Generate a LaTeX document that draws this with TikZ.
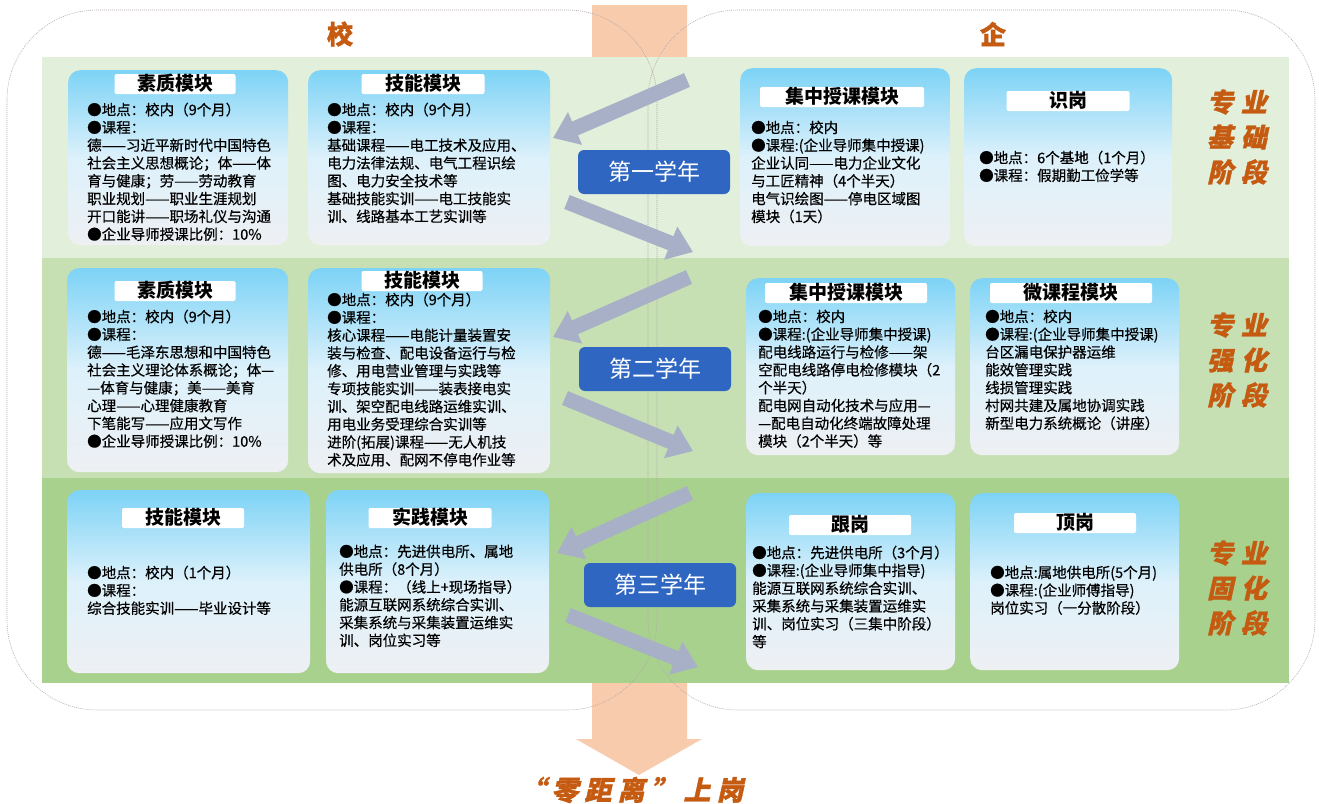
\documentclass[tikz,border=0pt]{standalone}
\usepackage{fontspec}
\setmainfont{Noto Sans CJK SC}
\newfontfamily\slantcjk{Noto Sans CJK SC}[FakeSlant=0.22,FakeBold=1.2]
\newfontfamily\heavycjk{Noto Sans CJK SC}[FakeBold=1.2]
\newfontfamily\bodycjk{Noto Sans CJK SC}[FakeBold=0.45]
\usetikzlibrary{arrows.meta}
\definecolor{bandA}{HTML}{E2EFDA}
\definecolor{bandB}{HTML}{C6E0B4}
\definecolor{bandC}{HTML}{A9D18E}
\definecolor{peach}{HTML}{F8CBAD}
\definecolor{rust}{HTML}{C55A11}
\definecolor{yearblue}{HTML}{2F66C1}
\definecolor{arrowgrey}{HTML}{A7B0C6}
\definecolor{boxtop}{HTML}{7DD3F6}
\definecolor{boxmid}{HTML}{DDF1FB}
\definecolor{boxbot}{HTML}{EEF0F3}
\definecolor{outlinegrey}{HTML}{B5A9A9}
\begin{document}
\begin{tikzpicture}[x=1pt, y=-1pt,
    modbox/.style={anchor=north west, rounded corners=12pt, top color=boxtop, bottom color=boxbot, middle color=boxmid, inner sep=0pt},
    modtitle/.style={fill=white, rounded corners=2pt, minimum height=20pt, inner sep=0pt, text height=15pt, text depth=2pt, font=\bfseries\fontsize{19}{19}\selectfont},
    modtext/.style={anchor=north west, align=left, inner sep=0pt, font=\bodycjk\fontsize{14.5}{17.8}\selectfont},
    yearbox/.style={fill=yearblue, text=white, rounded corners=6pt, minimum width=152pt, minimum height=44pt, font=\fontsize{23}{23}\selectfont},
    stagetext/.style={text=rust, align=center, font=\slantcjk\bfseries\fontsize{26}{35}\selectfont},
    yeararrow/.style={draw=arrowgrey, line width=15pt, -{Triangle[length=24pt,width=34pt]}},
    sideline/.style={draw=outlinegrey, line width=0.6pt, dash pattern=on 1pt off 1pt, rounded corners=90pt}]
\useasboundingbox (0,0) rectangle (1319,803);

\fill[peach](592,5)--(687,5)--(687,739)--(702,739)--(639,775)--(576,739)--(592,739)--cycle;
\fill[bandA](42,57) rectangle (1289,258);
\fill[bandB](42,258) rectangle (1289,478);
\fill[bandC](42,478) rectangle (1289,683);
\draw[sideline](7,10) rectangle (657,710);
\draw[sideline](648,10) rectangle (1315,710);

\node[text=rust, font=\heavycjk\bfseries\fontsize{26}{26}\selectfont] (xiao) at (340,34) {校};
\node[text=rust, font=\heavycjk\bfseries\fontsize{26}{26}\selectfont] (qi) at (993,34) {企};

\coordinate (in1) at (687,80); \coordinate (to1) at (553,138);
\coordinate (fr1) at (567,202); \coordinate (out1) at (693,252);
\coordinate (in2) at (689,277); \coordinate (to2) at (553,337);
\coordinate (fr2) at (565,398); \coordinate (out2) at (693,451);
\coordinate (in3) at (690,493); \coordinate (to3) at (557,553);
\coordinate (fr3) at (568,615); \coordinate (out3) at (698,667);
\draw[yeararrow](in1)--(to1);
\draw[yeararrow](fr1)--(out1);
\draw[yeararrow](in2)--(to2);
\draw[yeararrow](fr2)--(out2);
\draw[yeararrow](in3)--(to3);
\draw[yeararrow](fr3)--(out3);

\node[modbox, minimum width=220pt, minimum height=175pt] (szA) at (68,70) {};
\node[modtitle, minimum width=121pt] (szAt) at (175,84) {素质模块};
\node[modtext] (szAx) at (87,102.5) {●地点：校内（9个月）\\●课程：\\德——习近平新时代中国特色\\社会主义思想概论；体——体\\育与健康；劳——劳动教育\\职业规划——职业生涯规划\\开口能讲——职场礼仪与沟通\\●企业导师授课比例：10\%};

\node[modbox, minimum width=242pt, minimum height=175pt] (jnA) at (308,70) {};
\node[modtitle, minimum width=123pt] (jnAt) at (423,84) {技能模块};
\node[modtext] (jnAx) at (327,102.5) {●地点：校内（9个月）\\●课程：\\基础课程——电工技术及应用、\\电力法律法规、电气工程识绘\\图、电力安全技术等\\基础技能实训——电工技能实\\训、线路基本工艺实训等};

\node[modbox, minimum width=210pt, minimum height=178pt] (jzA) at (740,68) {};
\node[modtitle, minimum width=164pt] (jzAt) at (842,97) {集中授课模块};
\node[modtext] (jzAx) at (751,120.5) {●地点：校内\\●课程:(企业导师集中授课)\\企业认同——电力企业文化\\与工匠精神（4个半天）\\电气识绘图——停电区域图\\模块（1天）};

\node[modbox, minimum width=208pt, minimum height=178pt] (sgA) at (964,68) {};
\node[modtitle, minimum width=123pt] (sgAt) at (1068,101) {识岗};
\node[modtext] (sgAx) at (979,150.5) {●地点：6个基地（1个月）\\●课程：假期勤工俭学等};

\node[yearbox] (yr1) at (654,172) {第一学年};
\node[stagetext] (stg1) at (1237,137) {专\hspace{0.3em}业\\基\hspace{0.3em}础\\阶\hspace{0.3em}段};

\node[modbox, minimum width=221pt, minimum height=204pt] (szB) at (67,268) {};
\node[modtitle, minimum width=121pt] (szBt) at (175,291) {素质模块};
\node[modtext] (szBx) at (87,309.5) {●地点：校内（9个月）\\●课程：\\德——毛泽东思想和中国特色\\社会主义理论体系概论；体—\\—体育与健康；美——美育\\心理——心理健康教育\\下笔能写——应用文写作\\●企业导师授课比例：10\%};

\node[modbox, minimum width=242pt, minimum height=205pt] (jnB) at (308,268) {};
\node[modtitle, minimum width=121pt] (jnBt) at (422,281) {技能模块};
\node[modtext] (jnBx) at (327,292.5) {●地点：校内（9个月）\\●课程：\\核心课程——电能计量装置安\\装与检查、配电设备运行与检\\修、用电营业管理与实践等\\专项技能实训——装表接电实\\训、架空配电线路运维实训、\\用电业务受理综合实训等\\进阶(拓展)课程——无人机技\\术及应用、配网不停电作业等};

\node[modbox, minimum width=209pt, minimum height=177pt] (jzB) at (746,278) {};
\node[modtitle, minimum width=162pt] (jzBt) at (846,293) {集中授课模块};
\node[modtext] (jzBx) at (758,309.5) {●地点：校内\\●课程:(企业导师集中授课)\\配电线路运行与检修——架\\空配电线路停电检修模块（2\\个半天）\\配电网自动化技术与应用—\\—配电自动化终端故障处理\\模块（2个半天）等};

\node[modbox, minimum width=209pt, minimum height=177pt] (wkB) at (970,278) {};
\node[modtitle, minimum width=162pt] (wkBt) at (1071,293) {微课程模块};
\node[modtext] (wkBx) at (985,309.5) {●地点：校内\\●课程:(企业导师集中授课)\\台区漏电保护器运维\\能效管理实践\\线损管理实践\\村网共建及属地协调实践\\新型电力系统概论（讲座）};

\node[yearbox] (yr2) at (655,369) {第二学年};
\node[stagetext] (stg2) at (1237,360) {专\hspace{0.3em}业\\强\hspace{0.3em}化\\阶\hspace{0.3em}段};

\node[modbox, minimum width=243pt, minimum height=183pt] (jnC) at (67,490) {};
\node[modtitle, minimum width=122pt] (jnCt) at (183,518) {技能模块};
\node[modtext] (jnCx) at (87,565.5) {●地点：校内（1个月）\\●课程：\\综合技能实训——毕业设计等};

\node[modbox, minimum width=223pt, minimum height=183pt] (sjC) at (326,490) {};
\node[modtitle, minimum width=123pt] (sjCt) at (430,518) {实践模块};
\node[modtext] (sjCx) at (339,544.5) {●地点：先进供电所、属地\\供电所（8个月）\\●课程：（线上+现场指导）\\能源互联网系统综合实训、\\采集系统与采集装置运维实\\训、岗位实习等};

\node[modbox, minimum width=209pt, minimum height=177pt] (ggC) at (746,493) {};
\node[modtitle, minimum width=122pt] (ggCt) at (850,525) {跟岗};
\node[modtext] (ggCx) at (752,545.5) {●地点：先进供电所（3个月）\\●课程:(企业导师集中指导)\\能源互联网系统综合实训、\\采集系统与采集装置运维实\\训、岗位实习（三集中阶段）\\等};

\node[modbox, minimum width=209pt, minimum height=177pt] (dgC) at (970,493) {};
\node[modtitle, minimum width=122pt] (dgCt) at (1075,523) {顶岗};
\node[modtext] (dgCx) at (990,565.5) {●地点:属地供电所(5个月)\\●课程:(企业师傅指导)\\岗位实习（一分散阶段）};

\node[yearbox] (yr3) at (660,585) {第三学年};
\node[stagetext] (stg3) at (1237,588) {专\hspace{0.3em}业\\固\hspace{0.3em}化\\阶\hspace{0.3em}段};

\node[text=rust, font=\slantcjk\bfseries\fontsize{27}{27}\selectfont] (zero) at (631,790) {“\hspace{6pt}零\hspace{6pt}距\hspace{6pt}离\hspace{6pt}”\hspace{6pt}上\hspace{6pt}岗};

\end{tikzpicture}
\end{document}
